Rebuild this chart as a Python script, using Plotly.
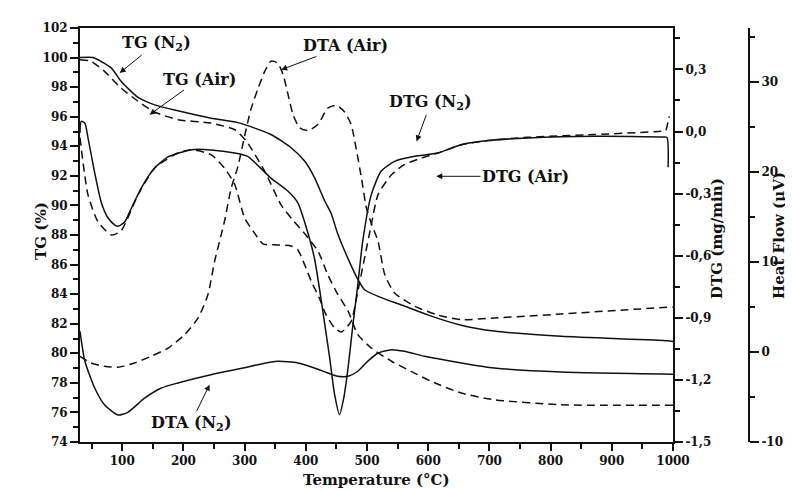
import plotly.graph_objects as go

# ---------------- data ----------------
# TG (%) curves
tg_n2_T = [31, 52, 82, 98, 126, 153, 191, 245, 289, 343, 376, 398, 414, 431, 441, 452, 469, 485, 496, 518, 561, 599, 654, 708, 817, 991, 1000]
tg_n2 = [100.0, 100.0, 99.3, 98.4, 97.3, 96.8, 96.4, 95.9, 95.6, 94.8, 93.9, 93.0, 91.9, 90.3, 89.5, 88.1, 86.4, 85.0, 84.3, 83.85, 83.2, 82.6, 81.9, 81.5, 81.15, 80.85, 80.8]

tg_air_T = [31, 49, 71, 98, 126, 153, 191, 245, 284, 303, 333, 360, 379, 398, 420, 436, 452, 469, 485, 507, 540, 572, 605, 654, 708, 817, 1000]
tg_air = [99.86, 99.75, 99.07, 97.94, 97.04, 96.32, 95.8, 95.57, 95.12, 94.34, 92.3, 90.0, 89.0, 88.1, 86.9, 85.3, 84.0, 82.86, 81.26, 80.36, 79.46, 78.78, 78.1, 77.31, 76.86, 76.52, 76.48]

# DTG (mg/min) curves
dtg_n2_T = [31, 33, 39, 44, 55, 66, 77, 88, 93, 104, 115, 131, 153, 175, 213, 245, 284, 305, 343, 371, 387, 401, 414, 423, 431, 439, 447, 455, 462, 469, 477, 485, 493, 507, 523, 545, 578, 616, 654, 698, 763, 872, 981, 990, 992]
dtg_n2 = [-0.007, 0.049, 0.04, -0.03, -0.2, -0.345, -0.418, -0.452, -0.458, -0.437, -0.37, -0.273, -0.176, -0.123, -0.088, -0.089, -0.104, -0.12, -0.225, -0.289, -0.345, -0.466, -0.611, -0.772, -0.933, -1.094, -1.27, -1.368, -1.287, -1.143, -0.933, -0.74, -0.53, -0.305, -0.192, -0.144, -0.12, -0.104, -0.064, -0.044, -0.031, -0.023, -0.027, -0.028, -0.173]

dtg_air_T = [31, 44, 60, 82, 98, 126, 153, 191, 213, 245, 267, 284, 300, 316, 330, 354, 376, 387, 398, 409, 422, 433, 447, 458, 474, 485, 496, 507, 518, 540, 561, 589, 616, 654, 698, 763, 872, 981, 988, 992, 994]
dtg_air = [-0.03, -0.305, -0.434, -0.50, -0.48, -0.305, -0.176, -0.104, -0.088, -0.112, -0.176, -0.257, -0.418, -0.49, -0.543, -0.548, -0.553, -0.572, -0.643, -0.724, -0.804, -0.885, -0.949, -0.969, -0.917, -0.772, -0.611, -0.45, -0.305, -0.209, -0.16, -0.128, -0.104, -0.064, -0.044, -0.028, -0.015, 0.001, 0.004, 0.05, 0.073]

# DTA heat flow (µV) curves
dta_n2_T = [31, 39, 55, 71, 93, 109, 137, 164, 191, 245, 300, 322, 354, 387, 414, 436, 452, 469, 485, 501, 518, 540, 561, 594, 616, 654, 708, 817, 1000]
dta_n2 = [2.3, -1.03, -4.0, -5.86, -7.0, -6.7, -5.1, -4.0, -3.44, -2.52, -1.75, -1.41, -1.04, -1.22, -1.78, -2.33, -2.7, -2.7, -2.14, -1.04, -0.11, 0.26, 0.08, -0.48, -0.75, -1.22, -1.78, -2.22, -2.46]

dta_air_T = [31, 49, 71, 93, 120, 147, 175, 202, 224, 240, 251, 267, 278, 289, 300, 310, 322, 333, 343, 354, 363, 371, 379, 390, 404, 420, 436, 450, 463, 474, 482, 491, 499, 507, 518, 529, 545, 578, 616, 654, 708, 817, 926, 1000]
dta_air = [-0.48, -1.22, -1.59, -1.7, -1.22, -0.48, 0.44, 1.92, 3.78, 6.37, 10.08, 14.5, 18.2, 20.6, 24.0, 26.9, 29.3, 31.2, 32.3, 32.1, 30.8, 28.6, 26.4, 24.9, 24.6, 25.3, 27.1, 27.4, 26.7, 25.3, 22.7, 19.3, 16.0, 14.3, 12.3, 8.6, 6.56, 5.08, 4.1, 3.59, 3.78, 4.22, 4.7, 5.0]

# axis ticks
x_ticks = [100, 200, 300, 400, 500, 600, 700, 800, 900, 1000]
tg_ticks = [74, 76, 78, 80, 82, 84, 86, 88, 90, 92, 94, 96, 98, 100, 102]
dtg_ticks = [-1.5, -1.2, -0.9, -0.6, -0.3, 0.0, 0.3]
dtg_labels = ["-1,5", "-1,2", "-0,9", "-0,6", "-0,3", "0,0", "0,3"]
dtg_minor = [-1.35, -1.05, -0.75, -0.45, -0.15, 0.15, 0.45]
hf_ticks = [-10, 0, 10, 20, 30]
hf_labels = ["-10", "0", "10", "20", "30"]

# curve labels: text, label centre (T, TG units), arrow tip (T, TG units)
label_texts = ["TG (N<sub>2</sub>)", "TG (Air)", "DTA (Air)", "DTG (N<sub>2</sub>)", "DTG (Air)", "DTA (N<sub>2</sub>)"]
label_pos = [(156, 100.98), (226, 98.55), (465, 100.82), (604, 96.93), (759, 91.97), (212, 75.28)]
label_tip = [(95.8, 98.96), (144.8, 96.14), (359.8, 99.18), (581, 94.33), (613.1, 91.97), (242.8, 77.88)]

FONT = "DejaVu Serif"
BLK = "#111111"

fig = go.Figure()

def add(xs, ys, axis, dashed):
    fig.add_trace(go.Scatter(
        x=xs, y=ys, yaxis=axis, mode="lines",
        line=dict(color=BLK, width=1.5, dash="8px,5px" if dashed else "solid",
                  shape="spline", smoothing=0.6),
        showlegend=False, hoverinfo="skip"))

add(tg_n2_T, tg_n2, "y", False)
add(tg_air_T, tg_air, "y", True)
add(dtg_n2_T, dtg_n2, "y2", False)
add(dtg_air_T, dtg_air, "y2", True)
add(dta_n2_T, dta_n2, "y3", False)
add(dta_air_T, dta_air, "y3", True)

tickfont = dict(family=FONT, size=12, color=BLK, weight="bold")

fig.update_layout(
    width=793, height=491,
    margin=dict(l=72, r=52, t=20, b=57, autoexpand=False),
    paper_bgcolor="white", plot_bgcolor="white",
    font=dict(family=FONT, color=BLK),
    xaxis=dict(domain=[0, 593 / 669], range=[31, 1000], tickvals=x_ticks,
               ticks="outside", ticklen=7, tickwidth=1.5, tickcolor=BLK,
               minor=dict(tickvals=[50, 150, 250, 350, 450, 550, 650, 750, 850, 950],
                          ticks="outside", ticklen=5, tickwidth=1.5, tickcolor=BLK),
               showline=True, linewidth=2, linecolor=BLK, mirror=True,
               showgrid=False, zeroline=False, tickfont=tickfont),
    yaxis=dict(range=[74, 102], tickvals=tg_ticks, ticks="outside", ticklen=8,
               tickwidth=1.5, tickcolor=BLK,
               minor=dict(dtick=1, tick0=74, ticks="outside", ticklen=5, tickwidth=1.5, tickcolor=BLK),
               showline=True, linewidth=2, linecolor=BLK,
               showgrid=False, zeroline=False, tickfont=tickfont),
    yaxis2=dict(overlaying="y", side="right", anchor="x", range=[-1.5, 0.5],
                tickvals=dtg_ticks, ticktext=dtg_labels, ticks="outside", ticklen=8,
                tickwidth=1.5, tickcolor=BLK,
                minor=dict(tickvals=dtg_minor, ticks="outside", ticklen=5, tickwidth=1.5, tickcolor=BLK),
                showline=True, linewidth=2, linecolor=BLK,
                showgrid=False, zeroline=False, tickfont=tickfont),
    yaxis3=dict(overlaying="y", side="right", anchor="free", position=1.0,
                range=[-10, 36], tickvals=hf_ticks, ticktext=hf_labels,
                ticks="outside", ticklen=9, tickwidth=1.5, tickcolor=BLK,
                minor=dict(tickvals=[-5, 5, 15, 25, 35], ticks="outside", ticklen=5, tickwidth=1.5, tickcolor=BLK),
                showline=True, linewidth=2, linecolor=BLK,
                showgrid=False, zeroline=False, tickfont=tickfont),
)

title_font = dict(family=FONT, size=15, color=BLK, weight="bold")
label_font = dict(family=FONT, size=16, color=BLK, weight="bold")

# axis titles
fig.add_annotation(text="TG (%)", xref="paper", yref="paper", x=-0.0747, y=0.51,
                   textangle=-90, showarrow=False, font=title_font)
fig.add_annotation(text="DTG (mg/min)", xref="paper", yref="paper", x=0.9686, y=0.493,
                   textangle=-90, showarrow=False, font=title_font)
fig.add_annotation(text="Heat Flow (µV)", xref="paper", yref="paper", x=1.0613, y=0.4976,
                   textangle=-90, showarrow=False, font=title_font)
fig.add_annotation(text="Temperature (°C)", xref="paper", yref="paper", x=0.4432, y=-0.118,
                   showarrow=False, font=title_font)

# curve labels with pointer arrows (text sits at the arrow tail)
for txt, (lx, ly), (hx, hy) in zip(label_texts, label_pos, label_tip):
    fig.add_annotation(text=txt, x=hx, y=hy, xref="x", yref="y",
                       ax=lx, ay=ly, axref="x", ayref="y",
                       showarrow=True, arrowhead=2, arrowsize=1.2, arrowwidth=1,
                       arrowcolor=BLK, standoff=0, font=label_font)

fig.write_html("out.html", config={"displayModeBar": False})
